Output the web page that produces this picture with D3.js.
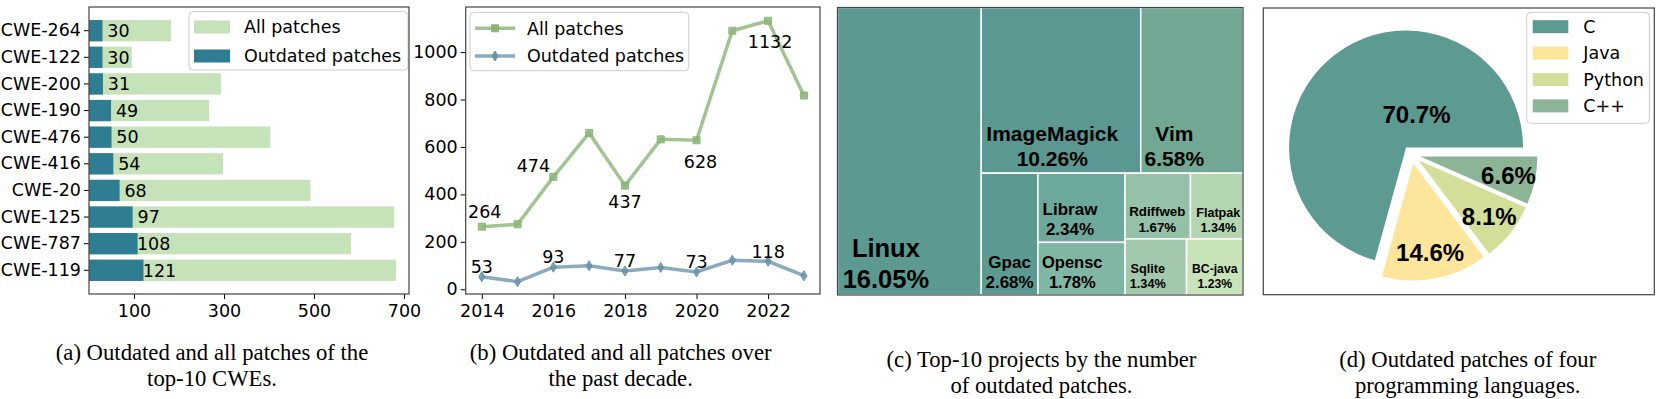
<!DOCTYPE html>
<html lang="en">
<head>
<meta charset="UTF-8">
<title>Outdated patches overview</title>
<script src="https://d3js.org/d3.v7.min.js"></script>
<style>
    body { margin: 0; background: #fff; }
    svg { display: block; }
    .tick text { font-family: "DejaVu Sans", sans-serif; font-size: 17.5px; fill: #000; }
    .tick line { stroke: #000; }
    .mpl { font-family: "DejaVu Sans", sans-serif; font-size: 17.5px; fill: #000; }
    .caption { font-family: "Liberation Serif", "Times New Roman", serif; font-size: 22.7px; fill: #000; }
    .bold { font-family: "Liberation Sans", Arial, sans-serif; font-weight: bold; fill: #000; }
</style>
</head>
<body>
<svg id="fig" width="1660" height="399"></svg>
<script>
// (a) top-10 CWEs
const cwes = ["CWE-264", "CWE-122", "CWE-200", "CWE-190", "CWE-476", "CWE-416", "CWE-20", "CWE-125", "CWE-787", "CWE-119"];
const cweOutdated = [30, 30, 31, 49, 50, 54, 68, 97, 108, 121];
const cweAll = [182, 95, 293, 267, 403, 298, 492, 678, 582, 682];
const cweTicks = [100, 300, 500, 700];

// (b) patches per year
const years = [2014, 2015, 2016, 2017, 2018, 2019, 2020, 2021, 2022, 2023];
const yearAll = [264, 274, 474, 659, 437, 632, 628, 1090, 1132, 817];
const yearOutdated = [53, 32, 93, 99, 77, 92, 73, 122, 118, 57];
const yearTicks = [2014, 2016, 2018, 2020, 2022];
const countTicks = [0, 200, 400, 600, 800, 1000];
const labelledYears = [0, 2, 4, 6, 8];

// (c) top-10 projects (% of outdated patches)
const projects = ["Linux", "ImageMagick", "Vim", "Gpac", "Libraw", "Opensc", "Rdiffweb", "Flatpak", "Sqlite", "BC-java"];
const projectShare = [16.05, 10.26, 6.58, 2.68, 2.34, 1.78, 1.67, 1.34, 1.34, 1.23];

// (d) languages
const languages = ["C", "Java", "Python", "C++"];
const languageShare = [70.7, 14.6, 8.1, 6.6];

const svg = d3.select("#fig");
const frameColor = "#444";

function frame(x0, y0, x1, y1) {
    svg.append("rect")
        .attr("x", x0).attr("y", y0)
        .attr("width", x1 - x0).attr("height", y1 - y0)
        .attr("fill", "none")
        .attr("stroke", frameColor)
        .attr("stroke-width", 1.2);
}

// ---------- (a) horizontal bars ----------
const pa = {left: 89, right: 409, top: 7, bottom: 294};
const xA = d3.scaleLinear().domain([0, 711]).range([pa.left, pa.right]);
const yA = d3.scaleBand().domain(cwes).range([pa.top, pa.bottom]).paddingInner(0.2).paddingOuter(0.49);

const gA = svg.append("g");
gA.selectAll(".all").data(cwes).join("rect")
    .attr("x", xA(0))
    .attr("y", d => yA(d))
    .attr("width", (d, i) => xA(cweAll[i]) - xA(0))
    .attr("height", yA.bandwidth())
    .attr("fill", "#c6e2b8");
gA.selectAll(".out").data(cwes).join("rect")
    .attr("x", xA(0))
    .attr("y", d => yA(d))
    .attr("width", (d, i) => xA(cweOutdated[i]) - xA(0))
    .attr("height", yA.bandwidth())
    .attr("fill", "#2f7d92");
gA.selectAll(".val").data(cwes).join("text")
    .attr("class", "mpl")
    .attr("x", (d, i) => xA(cweOutdated[i]) + 16)
    .attr("y", d => yA(d) + yA.bandwidth() / 2)
    .attr("dy", "0.36em")
    .attr("text-anchor", "middle")
    .text((d, i) => cweOutdated[i]);

gA.append("g")
    .attr("transform", `translate(0,${pa.bottom})`)
    .call(d3.axisBottom(xA).tickValues(cweTicks).tickSize(5).tickPadding(6).tickSizeOuter(0))
    .call(g => g.select(".domain").remove());
gA.append("g")
    .attr("transform", `translate(${pa.left},0)`)
    .call(d3.axisLeft(yA).tickSize(5).tickPadding(3).tickSizeOuter(0))
    .call(g => g.select(".domain").remove());
frame(pa.left, pa.top, pa.right, pa.bottom);

// legend (a)
const legA = gA.append("g");
legA.append("rect").attr("x", 189).attr("y", 11.7).attr("width", 219).attr("height", 58.3)
    .attr("rx", 4).attr("fill", "#fff").attr("fill-opacity", 0.8).attr("stroke", "#ccc");
[["All patches", "#c6e2b8"], ["Outdated patches", "#2f7d92"]].forEach(([name, c], i) => {
    const cy = 27 + i * 29;
    legA.append("rect").attr("x", 194).attr("y", cy - 6.5).attr("width", 36).attr("height", 13).attr("fill", c);
    legA.append("text").attr("class", "mpl").attr("x", 244).attr("y", cy).attr("dy", "0.36em").text(name);
});

// ---------- (b) lines over years ----------
const pb = {left: 465.7, right: 820, top: 7, bottom: 294};
const xB = d3.scaleLinear().domain([2013.55, 2023.45]).range([pb.left, pb.right]);
const yB = d3.scaleLinear().domain([-20, 1190]).range([pb.bottom, pb.top]);
const gB = svg.append("g");

const series = [
    {name: "All patches", values: yearAll, line: "#a2c492", mark: "#8cb57b", shape: "square",
     offsets: [[3, -15], [-20, -11], [0, 16], [4, 21], [2, 21]]},
    {name: "Outdated patches", values: yearOutdated, line: "#8aabbe", mark: "#6893aa", shape: "diamond",
     offsets: [[0, -10], [0, -10], [0, -10], [0, -10], [0, -10]]}
];
const diamond = "M0,-5L3,0L0,5L-3,0Z";
const square = "M-3.5,-3.5H3.5V3.5H-3.5Z";

const line = d3.line().x((d, i) => xB(years[i])).y(d => yB(d));
series.forEach(s => {
    gB.append("path").datum(s.values)
        .attr("fill", "none").attr("stroke", s.line).attr("stroke-width", 3.5)
        .attr("d", line);
    gB.selectAll(null).data(s.values).join("path")
        .attr("transform", (d, i) => `translate(${xB(years[i])},${yB(d)})`)
        .attr("d", s.shape === "square" ? square : diamond)
        .attr("fill", s.mark).attr("fill-opacity", 0.85)
        .attr("stroke", s.mark).attr("stroke-width", 1);
    gB.selectAll(null).data(labelledYears).join("text")
        .attr("class", "mpl")
        .attr("text-anchor", "middle")
        .attr("dy", "0.36em")
        .attr("x", (k, j) => xB(years[k]) + s.offsets[j][0])
        .attr("y", (k, j) => yB(s.values[k]) + s.offsets[j][1])
        .text(k => s.values[k]);
});

gB.append("g")
    .attr("transform", `translate(0,${pb.bottom})`)
    .call(d3.axisBottom(xB).tickValues(yearTicks).tickFormat(d3.format("d")).tickSize(5).tickPadding(6).tickSizeOuter(0))
    .call(g => g.select(".domain").remove());
gB.append("g")
    .attr("transform", `translate(${pb.left},0)`)
    .call(d3.axisLeft(yB).tickValues(countTicks).tickFormat(d3.format("d")).tickSize(5).tickPadding(3).tickSizeOuter(0))
    .call(g => g.select(".domain").remove());
frame(pb.left, pb.top, pb.right, pb.bottom);

const legB = gB.append("g");
legB.append("rect").attr("x", 470).attr("y", 12.3).attr("width", 218.7).attr("height", 58.4)
    .attr("rx", 4).attr("fill", "#fff").attr("fill-opacity", 0.8).attr("stroke", "#ccc");
series.forEach((s, i) => {
    const cy = 28.3 + i * 27.7;
    legB.append("line").attr("x1", 475).attr("x2", 515).attr("y1", cy).attr("y2", cy)
        .attr("stroke", s.line).attr("stroke-width", 3.5);
    legB.append("path").attr("transform", `translate(495,${cy})`)
        .attr("d", s.shape === "square" ? square : diamond)
        .attr("fill", s.mark).attr("stroke", s.mark);
    legB.append("text").attr("class", "mpl").attr("x", 527).attr("y", cy).attr("dy", "0.36em").text(s.name);
});

// ---------- (c) treemap ----------
const pc = {left: 837.5, right: 1243, top: 7.5, bottom: 295};
const tileColors = ["#5c9990", "#5b9891", "#72a794", "#5c9a91", "#6da89c", "#80b6a4", "#95c1a9", "#b3d5b0", "#a3c9ad", "#c9e3b9"];
const tileFont = [25.5, 21, 21, 17, 17, 16.5, 13.3, 12.6, 12.7, 12.2];
const tileDx = [-23.5, -8.7, -17.5, 0, -11.5, -9.2, -0.5, 1.5, -8, 0];
// nesting of the tiles (indices into projects), laid out slice/dice by depth
const tileGroups = [0, [[1, 2], [3, [4, 5], [[6, 7], [8, 9]]]]];
const toNode = t => Array.isArray(t) ? {children: t.map(toNode)} : {idx: t, value: projectShare[t]};
const root = d3.hierarchy(toNode(tileGroups)).sum(d => d.value || 0);
d3.treemap().tile(d3.treemapSliceDice).size([pc.right - pc.left, pc.bottom - pc.top])(root);

const gC = svg.append("g").attr("transform", `translate(${pc.left},${pc.top})`);
const leaves = gC.selectAll("g").data(root.leaves()).join("g");
leaves.append("rect")
    .attr("x", d => d.x0).attr("y", d => d.y0)
    .attr("width", d => d.x1 - d.x0).attr("height", d => d.y1 - d.y0)
    .attr("fill", d => tileColors[d.data.idx])
    .attr("stroke", "#fff").attr("stroke-width", 1.5);
leaves.each(function(d) {
    const i = d.data.idx, fs = tileFont[i];
    const cx = (d.x0 + d.x1) / 2 + tileDx[i];
    const base = d.y1 - 7;
    const g = d3.select(this);
    g.append("text").attr("class", "bold").attr("text-anchor", "middle")
        .attr("x", cx).attr("y", base - fs * 1.2).attr("font-size", fs).text(projects[i]);
    g.append("text").attr("class", "bold").attr("text-anchor", "middle")
        .attr("x", cx).attr("y", base).attr("font-size", fs).text(projectShare[i].toFixed(2) + "%");
});
frame(pc.left, pc.top, pc.right, pc.bottom);

// ---------- (d) pie ----------
const pd = {left: 1263.3, right: 1654.3, top: 8, bottom: 294.7};
const pieColors = ["#5c9a92", "#fde59c", "#d3df99", "#8bb596"];
const pieCx = 1411.5, pieCy = 154.7, pieR = 117, explode = 9;
const labelShift = [[65, 39], [0, 0], [0, 0], [0, 0]];
const pie = d3.pie().sort(null).startAngle(Math.PI / 2).endAngle(Math.PI / 2 - 2 * Math.PI);
const arc = d3.arc().innerRadius(0).outerRadius(pieR);
const gD = svg.append("g").attr("transform", `translate(${pieCx},${pieCy})`);
pie(languageShare).forEach((a, i) => {
    const mid = (a.startAngle + a.endAngle) / 2;
    const ox = Math.sin(mid) * explode, oy = -Math.cos(mid) * explode;
    gD.append("path").attr("d", arc(a)).attr("transform", `translate(${ox},${oy})`).attr("fill", pieColors[i]);
    const rl = pieR * 0.77;
    gD.append("text").attr("class", "bold").attr("font-size", 24).attr("text-anchor", "middle").attr("dy", "0.36em")
        .attr("x", ox + Math.sin(mid) * rl + labelShift[i][0])
        .attr("y", oy - Math.cos(mid) * rl + labelShift[i][1])
        .text(languageShare[i].toFixed(1) + "%");
});
frame(pd.left, pd.top, pd.right, pd.bottom);

const legD = svg.append("g");
legD.append("rect").attr("x", 1526.7).attr("y", 12.3).attr("width", 122.6).attr("height", 111)
    .attr("rx", 4).attr("fill", "#fff").attr("fill-opacity", 0.8).attr("stroke", "#ccc");
languages.forEach((name, i) => {
    const cy = 26.7 + i * 26.4;
    legD.append("rect").attr("x", 1532.7).attr("y", cy - 6.5).attr("width", 35.6).attr("height", 13).attr("fill", pieColors[i]);
    legD.append("text").attr("class", "mpl").attr("x", 1583.3).attr("y", cy).attr("dy", "0.36em").text(name);
});

// ---------- captions ----------
const captions = [
    {x: 212, y: 360, lines: ["(a) Outdated and all patches of the", "top-10 CWEs."]},
    {x: 620.7, y: 360, lines: ["(b) Outdated and all patches over", "the past decade."]},
    {x: 1041.5, y: 367, lines: ["(c) Top-10 projects by the number", "of outdated patches."]},
    {x: 1467.7, y: 367, lines: ["(d) Outdated patches of four", "programming languages."]}
];
captions.forEach(c => {
    c.lines.forEach((t, i) => {
        svg.append("text").attr("class", "caption").attr("text-anchor", "middle")
            .attr("x", c.x).attr("y", c.y + i * 26).text(t);
    });
});
</script>
</body>
</html>
